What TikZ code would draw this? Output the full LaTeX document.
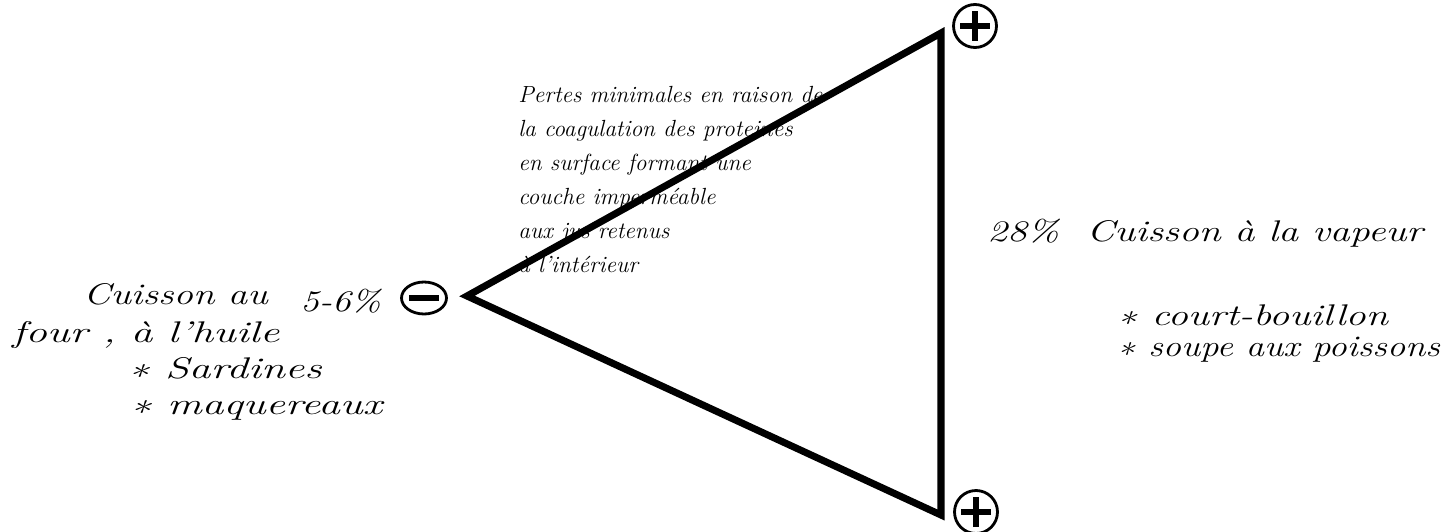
\documentclass[tikz,border=0pt]{standalone}
\usepackage{tikz}
\usepackage{graphicx}
\usetikzlibrary{shapes.geometric}

% widen the letters of one text, the hand runs wide and low
\newcommand{\hw}[2]{\scalebox{#1}[1]{#2}}

\begin{document}
\begin{tikzpicture}[
    x=0.02cm, y=-0.02cm,
    hand/.style={font=\fontsize{13.3}{19.4}\selectfont\itshape, inner sep=0pt, anchor=base west},
    bighand/.style={hand, font=\fontsize{17}{20}\selectfont\itshape},
    note/.style={hand, align=left, anchor=north west},
    edge/.style={line width=4pt, line join=miter},
    plussign/.style={circle, draw, line width=1.6pt, minimum size=0.86cm, inner sep=0pt},
    minussign/.style={ellipse, draw, line width=1.6pt, minimum width=0.9cm, minimum height=0.64cm, inner sep=0pt},
    bar/.style={line width=3.6pt}
]
\useasboundingbox (0,0) rectangle (1454,531);

% triangle
\coordinate (vtop) at (941,33);
\coordinate (vbot) at (941,515);
\coordinate (vleft) at (467,296);
\draw[edge] (vleft) -- (vtop) -- (vbot) -- cycle;

% signs at the corners
\node[plussign] (ptop) at (975,26) {};
\node[plussign] (pbot) at (976,512) {};
\node[minussign] (mleft) at (424,298) {};
\draw[bar] ([xshift=-0.3cm]ptop.center) -- ([xshift=0.3cm]ptop.center);
\draw[bar] ([yshift=-0.3cm]ptop.center) -- ([yshift=0.3cm]ptop.center);
\draw[bar] ([xshift=-0.3cm]pbot.center) -- ([xshift=0.3cm]pbot.center);
\draw[bar] ([yshift=-0.3cm]pbot.center) -- ([yshift=0.3cm]pbot.center);
\draw[bar] ([xshift=-0.3cm]mleft.center) -- ([xshift=0.3cm]mleft.center);

% texts
\node[note] (pertes) at (518,86) {Pertes minimales en raison de\\la coagulation des proteines\\en surface formant une\\couche imperméable\\aux jus retenus\\à l'intérieur};
\node[bighand] (four1) at (83,304) {\hw{1.3}{Cuisson au}};
\node[bighand] (pct) at (300,311) {\hw{1.25}{5-6\%}};
\node[bighand] (four2) at (12,342) {\hw{1.45}{four\ , à l'huile}};
\node[bighand] (sard) at (128,378) {\hw{1.45}{\textasteriskcentered\ Sardines}};
\node[bighand] (maq) at (130,414) {\hw{1.45}{\textasteriskcentered\ maquereaux}};
\node[bighand] (vap1) at (987,241) {\hw{1.33}{28\%\ \ Cuisson à la vapeur}};
\node[bighand] (vap2) at (1117,325) {\hw{1.35}{\textasteriskcentered\ court-bouillon}};
\node[bighand] (vap3) at (1117,356) {\hw{1.22}{\textasteriskcentered\ soupe aux poissons}};
\end{tikzpicture}
\end{document}
